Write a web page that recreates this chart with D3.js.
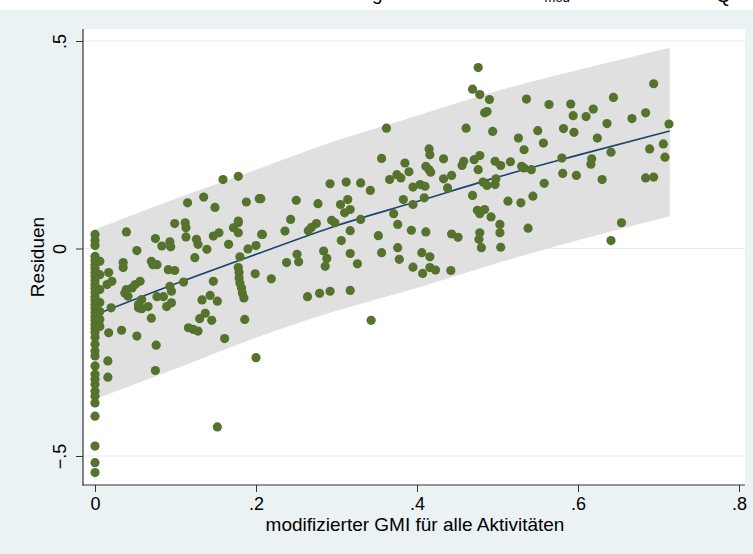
<!DOCTYPE html>
<html><head><meta charset="utf-8">
<script src="https://cdn.jsdelivr.net/npm/d3@7"></script>
<style>body{margin:0;padding:0;background:#fff}svg{display:block}text{font-family:"Liberation Sans",Arial,Helvetica,sans-serif}</style>
</head><body>
<script>
// ---------- data ----------
const xTicks = [0, 0.2, 0.4, 0.6, 0.8];
const xTickLabels = ["0", ".2", ".4", ".6", ".8"];
const yTicks = [-0.5, 0, 0.5];
const yTickLabels = ["\u2212.5", "0", ".5"];
const xTitle = "modifizierter GMI f\u00fcr alle Aktivit\u00e4ten";
const yTitle = "Residuen";

// fitted curve and confidence band
const fitX  = [0, 0.1, 0.2, 0.3, 0.4, 0.5, 0.6, 0.714];
const fitY  = [-0.160, -0.085, -0.014, 0.055, 0.113, 0.172, 0.225, 0.283];
const fitLo = [-0.363, -0.290, -0.215, -0.150, -0.095, -0.035, 0.020, 0.078];
const fitHi = [0.046, 0.120, 0.190, 0.260, 0.320, 0.380, 0.430, 0.484];

// scatter: GMI values
const gmi = [
0.039,0.099,0.112,0.113,0.113,0.075,0.083,0.093,0.094,0.052,0.126,0.128,0.139,0.124,0.147,0.154,0.166,0.172,0.178,0.178,
0.190,0.200,0.208,0.180,0.035,0.035,0.070,0.072,0.077,0.091,0.099,0.017,0.021,0.015,0.039,0.037,0.046,0.050,0.056,0.041,
0.058,0.054,0.054,0.058,0.066,0.077,0.085,0.093,0.095,0.095,0.089,0.110,0.147,0.133,0.143,0.152,0.178,0.179,0.179,0.180,
0.182,0.183,0.185,0.199,0.219,0.020,0.070,0.033,0.017,0.052,0.076,0.130,0.137,0.145,0.116,0.122,0.128,0.161,0.186,0.016,
0.016,0.075,0.200,0.159,0.178,0.135,0.115,0.149,0.188,0.204,0.178,0.362,0.461,0.484,0.487,0.490,0.494,0.356,0.385,0.415,
0.416,0.433,0.458,0.456,0.471,0.478,0.476,0.497,0.411,0.415,0.417,0.390,0.366,0.375,0.380,0.433,0.443,0.438,0.395,0.404,
0.410,0.482,0.487,0.497,0.498,0.469,0.292,0.312,0.330,0.342,0.206,0.250,0.277,0.305,0.314,0.317,0.310,0.383,0.395,0.409,
0.371,0.475,0.484,0.478,0.492,0.243,0.207,0.236,0.265,0.269,0.275,0.294,0.298,0.317,0.330,0.306,0.376,0.352,0.393,0.411,
0.443,0.451,0.478,0.477,0.480,0.251,0.253,0.238,0.284,0.288,0.286,0.317,0.326,0.356,0.376,0.378,0.406,0.416,0.395,0.407,
0.416,0.423,0.442,0.264,0.279,0.292,0.317,0.343,0.152,0.476,0.469,0.478,0.536,0.564,0.591,0.594,0.595,0.582,0.610,0.619,
0.644,0.694,0.684,0.667,0.636,0.624,0.713,0.526,0.533,0.550,0.557,0.504,0.516,0.530,0.533,0.542,0.580,0.617,0.616,0.641,
0.689,0.706,0.708,0.581,0.598,0.630,0.684,0.694,0.558,0.544,0.513,0.529,0.503,0.503,0.504,0.538,0.654,0.641,
0,0,0,0,0,0,0,0,0,0,0,0,0,0,0,0,0,0,0,0,0,0,0,0,0,0,0,0,0,0,0,0,0,0,0,0,0,0,
0.006,0.006,0.006,0.006,0.006,0.006,0.006
];
// scatter: residuals
const residuals = [
0.040,0.060,0.062,0.050,0.028,0.024,0.006,0.016,0.004,-0.005,0.022,0.010,-0.002,-0.022,0.030,0.038,0.010,0.050,0.062,0.038,
-0.001,0.007,0.034,-0.020,-0.034,-0.046,-0.031,-0.039,-0.039,-0.051,-0.053,-0.058,-0.079,-0.087,-0.099,-0.107,-0.095,-0.087,-0.079,-0.115,
-0.123,-0.135,-0.143,-0.145,-0.140,-0.116,-0.116,-0.091,-0.103,-0.131,-0.140,-0.081,-0.079,-0.124,-0.113,-0.127,-0.046,-0.058,-0.071,-0.083,
-0.095,-0.107,-0.119,-0.061,-0.073,-0.143,-0.168,-0.197,-0.203,-0.211,-0.233,-0.169,-0.156,-0.173,-0.191,-0.195,-0.199,-0.217,-0.171,-0.271,
-0.310,-0.294,-0.263,0.166,0.174,0.124,0.110,0.099,0.112,0.120,0.066,0.290,0.290,0.327,0.330,0.359,0.282,0.217,0.206,0.240,
0.226,0.216,0.210,0.200,0.214,0.224,0.190,0.210,0.198,0.190,0.184,0.185,0.166,0.178,0.170,0.168,0.176,0.146,0.148,0.154,
0.150,0.160,0.152,0.154,0.168,0.128,0.156,0.160,0.158,0.140,0.120,0.116,0.108,0.106,0.118,0.094,0.086,0.118,0.106,0.122,
0.084,0.092,0.094,0.084,0.076,0.070,0.034,0.042,0.043,0.051,0.060,0.068,0.062,0.043,0.070,0.019,0.058,0.031,0.044,0.040,
0.035,0.027,0.038,0.022,0.002,-0.014,-0.032,-0.034,-0.006,-0.024,-0.043,-0.012,-0.037,-0.010,0.002,-0.026,-0.010,-0.020,-0.045,-0.060,
-0.046,-0.052,-0.053,-0.116,-0.108,-0.103,-0.101,-0.173,-0.430,0.436,0.384,0.371,0.360,0.347,0.348,0.320,0.280,0.289,0.318,0.336,
0.364,0.397,0.327,0.313,0.301,0.266,0.300,0.266,0.238,0.284,0.254,0.200,0.209,0.198,0.194,0.190,0.218,0.216,0.203,0.232,
0.240,0.252,0.220,0.181,0.176,0.166,0.170,0.172,0.157,0.126,0.114,0.110,0.058,0.038,0.003,0.049,0.062,0.019,
0.034,0.019,0.007,-0.019,-0.029,-0.039,-0.048,-0.058,-0.067,-0.077,-0.087,-0.096,-0.106,-0.116,-0.125,-0.135,-0.144,-0.154,-0.164,-0.173,
-0.183,-0.193,-0.202,-0.214,-0.231,-0.247,-0.259,-0.283,-0.303,-0.315,-0.327,-0.344,-0.356,-0.372,-0.404,-0.476,-0.516,-0.540,
-0.031,-0.063,-0.099,-0.130,-0.152,-0.171,-0.188
];

// ---------- layout ----------
const W = 753, H = 554;
const plotL = 83, plotR = 745, plotT = 29, plotB = 485;
const bg = "#EAF2F3";

const svg = d3.select("body").append("svg").attr("width", W).attr("height", H);
svg.append("rect").attr("width", W).attr("height", H).attr("fill", bg);
// top white strip with cut-off title remnants (as in the reference)
svg.append("rect").attr("width", W).attr("height", 10).attr("fill", "#fff");
const frag = svg.append("g").attr("fill", "#000");
frag.append("text").attr("x", 372).attr("y", -0.5).attr("font-size", 19).text("g");
frag.append("text").attr("x", 545).attr("y", 2).attr("font-size", 13).attr("font-style", "italic").text("mod");
frag.append("text").attr("x", 716).attr("y", 1.5).attr("font-size", 19).text("Q");

svg.append("rect").attr("x", plotL).attr("y", plotT).attr("width", plotR - plotL).attr("height", plotB - plotT).attr("fill", "#fff");

const x = d3.scaleLinear().domain([0, 0.8]).range([95, 739]);
const y = d3.scaleLinear().domain([-0.5, 0.5]).range([456, 41]);

// gridlines
svg.append("g").selectAll("line").data(yTicks).join("line")
  .attr("x1", plotL).attr("x2", plotR)
  .attr("y1", d => y(d)).attr("y2", d => y(d))
  .attr("stroke", "#E4ECEE").attr("stroke-width", 1.2);

// band
const fit = fitX.map((v, i) => ({x: v, y: fitY[i], lo: fitLo[i], hi: fitHi[i]}));
svg.append("path").datum(fit)
  .attr("d", d3.area().x(d => x(d.x)).y0(d => y(d.lo)).y1(d => y(d.hi)).curve(d3.curveMonotoneX))
  .attr("fill", "#E0E0E0");
// fit line
svg.append("path").datum(fit)
  .attr("d", d3.line().x(d => x(d.x)).y(d => y(d.y)).curve(d3.curveMonotoneX))
  .attr("fill", "none").attr("stroke", "#1A476F").attr("stroke-width", 1.6);

// points
const pts = gmi.map((v, i) => ({x: v, y: residuals[i]}));
svg.append("g").selectAll("circle").data(pts).join("circle")
  .attr("cx", d => x(d.x)).attr("cy", d => y(d.y)).attr("r", 4.6)
  .attr("fill", "#55732D");

// axes
const fs = 18;
const yAxis = svg.append("g").attr("transform", `translate(${plotL},0)`)
  .call(d3.axisLeft(y).tickValues(yTicks).tickSize(7).tickFormat((d, i) => yTickLabels[i]));
yAxis.select(".domain").remove();
yAxis.selectAll(".tick line").attr("stroke", "#333");
yAxis.selectAll(".tick text")
  .attr("transform", "rotate(-90)").attr("x", 0).attr("y", -17).attr("dy", 0)
  .attr("text-anchor", "middle").attr("font-size", fs).attr("fill", "#000")
  .style("font-family", '"Liberation Sans",Arial,sans-serif');

const xAxis = svg.append("g").attr("transform", `translate(0,${plotB})`)
  .call(d3.axisBottom(x).tickValues(xTicks).tickSize(7).tickFormat((d, i) => xTickLabels[i]));
xAxis.select(".domain").remove();
xAxis.selectAll(".tick line").attr("stroke", "#333");
xAxis.selectAll(".tick text").attr("y", 24.5).attr("dy", 0)
  .attr("font-size", fs).attr("fill", "#000")
  .style("font-family", '"Liberation Sans",Arial,sans-serif');

svg.append("line").attr("x1", plotL).attr("x2", plotL).attr("y1", plotT).attr("y2", plotB + 0.5)
  .attr("stroke", "#333").attr("stroke-width", 1.2);
svg.append("line").attr("x1", plotL - 0.5).attr("x2", plotR).attr("y1", plotB).attr("y2", plotB)
  .attr("stroke", "#333").attr("stroke-width", 1.2);

// titles
svg.append("text").attr("x", 415).attr("y", 531).attr("text-anchor", "middle")
  .attr("font-size", 19).attr("fill", "#000").text(xTitle);
svg.append("text").attr("transform", "translate(44,257) rotate(-90)").attr("text-anchor", "middle")
  .attr("font-size", 19).attr("fill", "#000").text(yTitle);
</script>
</body></html>
